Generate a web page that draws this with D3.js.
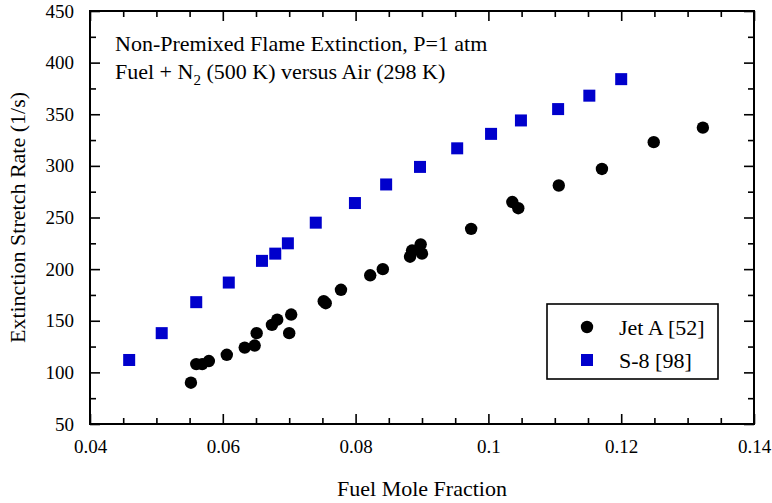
<!DOCTYPE html>
<html>
<head>
<meta charset="utf-8">
<script src="https://cdn.jsdelivr.net/npm/d3@7"></script>
<style>
body { margin: 0; background: #fff; }
</style>
</head>
<body>
<svg id="chart" width="772" height="503"></svg>
<script>
// Jet A [52]
var jetX = [0.0552, 0.0560, 0.0569, 0.0579, 0.0606, 0.0633, 0.0648, 0.0651, 0.0674, 0.0682,
            0.0700, 0.0703, 0.0752, 0.0755, 0.0778, 0.0822, 0.0841, 0.0882, 0.0885, 0.0898,
            0.0900, 0.0974, 0.1036, 0.1045, 0.1106, 0.1171, 0.1249, 0.1323];
var jetY = [90, 108, 108, 111, 117, 124, 126, 138, 146, 151,
            138, 156, 169, 167, 180, 194, 200, 212, 218, 224,
            215, 239, 265, 259, 281, 297, 323, 337];
// S-8 [98]
var s8X = [0.0459, 0.0508, 0.0560, 0.0609, 0.0659, 0.0679, 0.0698, 0.0740, 0.0799, 0.0846,
           0.0897, 0.0953, 0.1004, 0.1049, 0.1105, 0.1152, 0.1200];
var s8Y = [112, 138, 168, 187, 208, 215, 225, 245, 264, 282,
           299, 317, 331, 344, 355, 368, 384];

var xTicks = [0.04, 0.06, 0.08, 0.1, 0.12, 0.14];
var xMinor = [0.045, 0.05, 0.055, 0.065, 0.07, 0.075, 0.085, 0.09, 0.095, 0.105, 0.11, 0.115, 0.125, 0.13, 0.135];
var yTicks = [50, 100, 150, 200, 250, 300, 350, 400, 450];
var yMinor = [75, 125, 175, 225, 275, 325, 375, 425];

var serif = "'Liberation Serif', 'Times New Roman', serif";

var svg = d3.select("#chart");
var margin = {top: 11, right: 18, bottom: 79, left: 90};
var width = +svg.attr("width") - margin.left - margin.right;
var height = +svg.attr("height") - margin.top - margin.bottom;

var x = d3.scaleLinear().domain([0.04, 0.14]).range([0, width]);
var y = d3.scaleLinear().domain([50, 450]).range([height, 0]);

var g = svg.append("g")
    .attr("transform", "translate(" + margin.left + "," + margin.top + ")");

var fmt = function(d) { return String(+d.toFixed(3)); };

function styleAxis(sel, noLabels) {
  sel.attr("font-family", null).attr("font-size", null);
  sel.select(".domain").remove();
  sel.selectAll(".tick line").attr("stroke", "#000").attr("stroke-width", 1.6);
  sel.selectAll(".tick text").style("font-family", serif).style("font-size", "19px").attr("fill", "#000");
  if (noLabels) sel.selectAll(".tick text").remove();
}

// bottom
g.append("g").attr("transform", "translate(0," + height + ")")
  .call(d3.axisBottom(x).tickValues(xTicks).tickFormat(fmt).tickSizeInner(-10).tickSizeOuter(0).tickPadding(16))
  .call(styleAxis);
g.append("g").attr("transform", "translate(0," + height + ")")
  .call(d3.axisBottom(x).tickValues(xMinor).tickSizeInner(-6).tickSizeOuter(0))
  .call(styleAxis, true);
// top
g.append("g")
  .call(d3.axisTop(x).tickValues(xTicks).tickSizeInner(-10).tickSizeOuter(0))
  .call(styleAxis, true);
g.append("g")
  .call(d3.axisTop(x).tickValues(xMinor).tickSizeInner(-6).tickSizeOuter(0))
  .call(styleAxis, true);
// left
g.append("g")
  .call(d3.axisLeft(y).tickValues(yTicks).tickSizeInner(-10).tickSizeOuter(0).tickPadding(16))
  .call(styleAxis);
g.append("g")
  .call(d3.axisLeft(y).tickValues(yMinor).tickSizeInner(-6).tickSizeOuter(0))
  .call(styleAxis, true);
// right
g.append("g").attr("transform", "translate(" + width + ",0)")
  .call(d3.axisRight(y).tickValues(yTicks).tickSizeInner(-10).tickSizeOuter(0))
  .call(styleAxis, true);
g.append("g").attr("transform", "translate(" + width + ",0)")
  .call(d3.axisRight(y).tickValues(yMinor).tickSizeInner(-6).tickSizeOuter(0))
  .call(styleAxis, true);

// frame
g.append("rect")
  .attr("width", width).attr("height", height)
  .attr("fill", "none").attr("stroke", "#000").attr("stroke-width", 2);

// S-8 squares
var sq = 12;
g.selectAll(".s8")
  .data(s8X)
  .enter().append("rect")
  .attr("class", "s8")
  .attr("x", function(d) { return x(d) - sq / 2; })
  .attr("y", function(d, i) { return y(s8Y[i]) - sq / 2; })
  .attr("width", sq).attr("height", sq)
  .attr("fill", "#0000cc");

// Jet A circles
g.selectAll(".jet")
  .data(jetX)
  .enter().append("circle")
  .attr("class", "jet")
  .attr("cx", function(d) { return x(d); })
  .attr("cy", function(d, i) { return y(jetY[i]); })
  .attr("r", 6.2)
  .attr("fill", "#000");

// annotation
var note = g.append("text").attr("x", 25).attr("y", 40)
  .style("font-family", serif).style("font-size", "22px");
note.text("Non-Premixed Flame Extinction, P=1 atm");
var note2 = g.append("text").attr("x", 25).attr("y", 68)
  .style("font-family", serif).style("font-size", "22px");
note2.append("tspan").text("Fuel + N");
note2.append("tspan").attr("dy", 6).style("font-size", "15px").text("2");
note2.append("tspan").attr("dy", -6).text(" (500 K) versus Air (298 K)");

// legend
var lg = g.append("g").attr("transform", "translate(" + (547 - margin.left) + "," + (304 - margin.top) + ")");
lg.append("rect").attr("width", 171).attr("height", 75)
  .attr("fill", "#fff").attr("stroke", "#000").attr("stroke-width", 1.6);
lg.append("circle").attr("cx", 40).attr("cy", 23).attr("r", 6.2).attr("fill", "#000");
lg.append("rect").attr("x", 34).attr("y", 50).attr("width", 12).attr("height", 12).attr("fill", "#0000cc");
lg.append("text").attr("x", 72).attr("y", 31)
  .style("font-family", serif).style("font-size", "22px").text("Jet A [52]");
lg.append("text").attr("x", 72).attr("y", 64)
  .style("font-family", serif).style("font-size", "22px").text("S-8 [98]");

// axis titles
svg.append("text")
  .attr("x", margin.left + width / 2).attr("y", 496)
  .attr("text-anchor", "middle")
  .style("font-family", serif).style("font-size", "22px")
  .text("Fuel Mole Fraction");
svg.append("text")
  .attr("transform", "translate(25," + (margin.top + height / 2) + ") rotate(-90)")
  .attr("text-anchor", "middle")
  .style("font-family", serif).style("font-size", "22px")
  .text("Extinction Stretch Rate (1/s)");
</script>
</body>
</html>
